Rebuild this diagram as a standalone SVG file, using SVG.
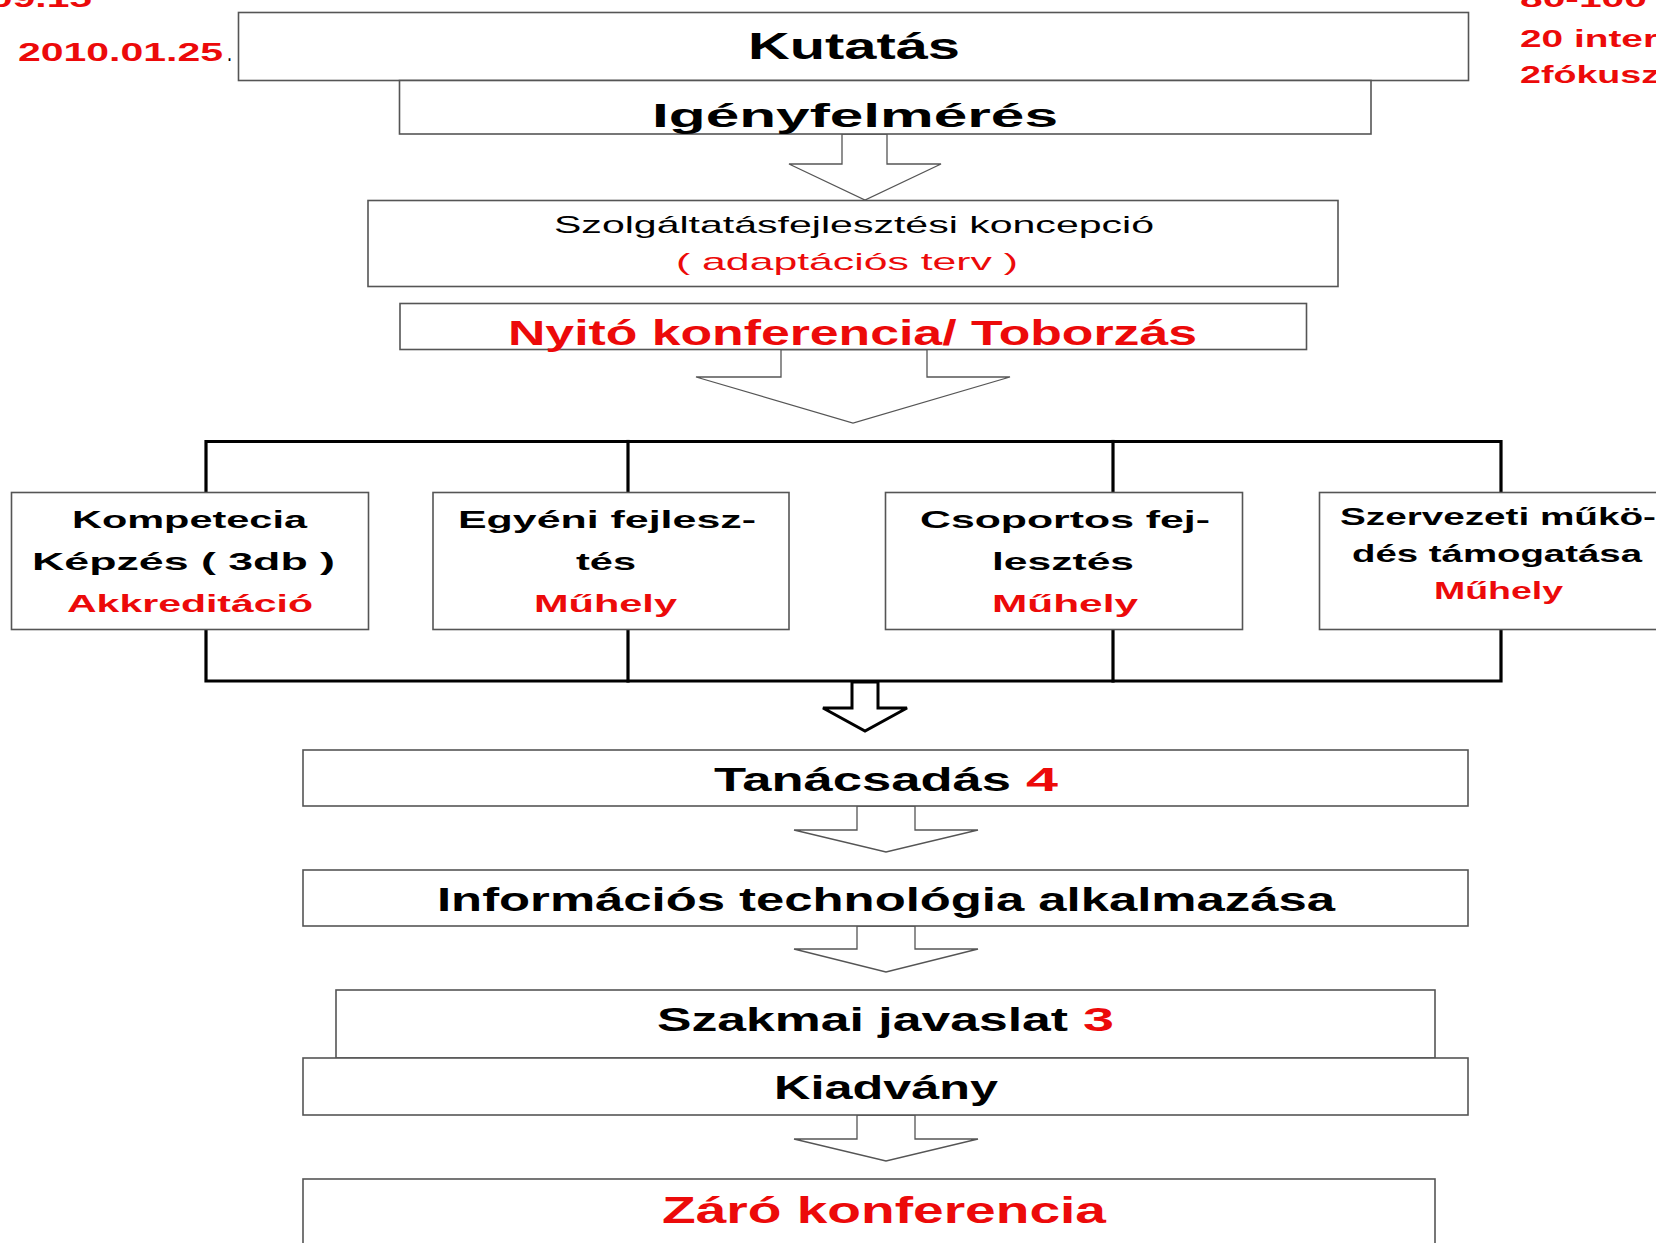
<svg xmlns="http://www.w3.org/2000/svg" width="1656" height="1243" viewBox="0 0 1656 1243">
<style>
.box{fill:#fff;stroke:#555;stroke-width:1.6}
.arr{fill:#fff;stroke:#555;stroke-width:1.3;stroke-linejoin:miter}
.barr{fill:#fff;stroke:#000;stroke-width:3;stroke-linejoin:miter}
.br{fill:none;stroke:#000;stroke-width:3.2;stroke-linecap:square}
text{font-family:"Liberation Sans",Arial,sans-serif;font-weight:bold;fill:#000}
.r{fill:#ec0a0a}
.n{font-weight:normal}
</style>
<rect width="1656" height="1243" fill="#fff"/>
<g id="side-notes">
<text x="-10" y="7" font-size="26" class="r" textLength="102" lengthAdjust="spacingAndGlyphs">09.15</text>
<text x="18" y="61" font-size="26" class="r" textLength="205" lengthAdjust="spacingAndGlyphs">2010.01.25</text>
<text x="227" y="61" font-size="26" class="n" textLength="5" lengthAdjust="spacingAndGlyphs">.</text>
<text x="1520" y="7" font-size="23" class="r" textLength="127" lengthAdjust="spacingAndGlyphs">80-100</text>
<text x="1520" y="47" font-size="23" class="r" textLength="138" lengthAdjust="spacingAndGlyphs">20 inter</text>
<text x="1520" y="83" font-size="23" class="r" textLength="140" lengthAdjust="spacingAndGlyphs">2fókusz</text>
</g>
<g id="connectors">
<polygon class="arr" points="842,134 842,164 789,164 865,200 941,164 887,164 887,134"/>
<polygon class="arr" points="781,349.5 781,377 696,377 853,423 1010,377 927,377 927,349.5"/>
<polyline class="br" points="206,492.5 206,441.5 1501,441.5 1501,492.5"/>
<line class="br" x1="628" y1="441.5" x2="628" y2="492.5"/>
<line class="br" x1="1113" y1="441.5" x2="1113" y2="492.5"/>
<polyline class="br" points="206,629.5 206,681 1501,681 1501,629.5"/>
<line class="br" x1="628" y1="629.5" x2="628" y2="681"/>
<line class="br" x1="1113" y1="629.5" x2="1113" y2="681"/>
<polygon class="barr" points="852,682 852,708 823,708 865,731 907,708 878,708 878,682"/>
<polygon class="arr" points="857,806 857,830 794,830 886,852 978,830 915,830 915,806"/>
<polygon class="arr" points="857,926 857,949 794,949 886,972 978,949 915,949 915,926"/>
<polygon class="arr" points="857,1115 857,1139 794,1139 886,1161 978,1139 915,1139 915,1115"/>
</g>
<g id="kutatas">
<rect class="box" x="238.5" y="12.5" width="1230" height="68"/>
<text x="748" y="59" font-size="37" textLength="212" lengthAdjust="spacingAndGlyphs">Kutatás</text>
</g>
<g id="igenyfelmeres">
<rect class="box" x="399.5" y="80.5" width="971.5" height="53.5"/>
<text x="652" y="127" font-size="34" textLength="406" lengthAdjust="spacingAndGlyphs">Igényfelmérés</text>
</g>
<g id="koncepcio">
<rect class="box" x="368" y="200.5" width="970" height="86"/>
<text x="554" y="233" font-size="24" class="n" textLength="600" lengthAdjust="spacingAndGlyphs">Szolgáltatásfejlesztési koncepció</text>
<text x="676" y="270" font-size="24" class="r n" textLength="342" lengthAdjust="spacingAndGlyphs">( adaptációs terv )</text>
</g>
<g id="nyito">
<rect class="box" x="400" y="303.5" width="906.5" height="46"/>
<text x="508" y="345" font-size="35" class="r" textLength="689" lengthAdjust="spacingAndGlyphs">Nyitó konferencia/ Toborzás</text>
</g>
<g id="kompetencia">
<rect class="box" x="11.5" y="492.5" width="357" height="137"/>
<text x="72" y="528" font-size="24" textLength="235" lengthAdjust="spacingAndGlyphs">Kompetecia</text>
<text x="32" y="570" font-size="24" textLength="303" lengthAdjust="spacingAndGlyphs">Képzés (  3db )</text>
<text x="67" y="612" font-size="24" class="r" textLength="246" lengthAdjust="spacingAndGlyphs">Akkreditáció</text>
</g>
<g id="egyeni">
<rect class="box" x="433" y="492.5" width="356" height="137"/>
<text x="458" y="528" font-size="24" textLength="298" lengthAdjust="spacingAndGlyphs">Egyéni fejlesz-</text>
<text x="576" y="570" font-size="24" textLength="60" lengthAdjust="spacingAndGlyphs">tés</text>
<text x="534" y="612" font-size="24" class="r" textLength="143" lengthAdjust="spacingAndGlyphs">Műhely</text>
</g>
<g id="csoportos">
<rect class="box" x="885.5" y="492.5" width="357" height="137"/>
<text x="920" y="528" font-size="24" textLength="290" lengthAdjust="spacingAndGlyphs">Csoportos fej-</text>
<text x="992" y="570" font-size="24" textLength="142" lengthAdjust="spacingAndGlyphs">lesztés</text>
<text x="992" y="612" font-size="24" class="r" textLength="146" lengthAdjust="spacingAndGlyphs">Műhely</text>
</g>
<g id="szervezeti">
<rect class="box" x="1319.5" y="492.5" width="360" height="137"/>
<text x="1340" y="525" font-size="23" textLength="316" lengthAdjust="spacingAndGlyphs">Szervezeti műkö-</text>
<text x="1352" y="562" font-size="23" textLength="290" lengthAdjust="spacingAndGlyphs">dés támogatása</text>
<text x="1434" y="599" font-size="23" class="r" textLength="129" lengthAdjust="spacingAndGlyphs">Műhely</text>
</g>
<g id="tanacsadas">
<rect class="box" x="303" y="750" width="1165" height="56"/>
<text x="714" y="791" font-size="33" textLength="297" lengthAdjust="spacingAndGlyphs">Tanácsadás</text>
<text x="1026" y="791" font-size="33" class="r" textLength="32" lengthAdjust="spacingAndGlyphs">4</text>
</g>
<g id="informacios">
<rect class="box" x="303" y="870" width="1165" height="56"/>
<text x="437" y="911" font-size="33" textLength="898" lengthAdjust="spacingAndGlyphs">Információs technológia alkalmazása</text>
</g>
<g id="szakmai">
<rect class="box" x="336" y="990" width="1099" height="68"/>
<text x="657" y="1031" font-size="33" textLength="411" lengthAdjust="spacingAndGlyphs">Szakmai javaslat</text>
<text x="1083" y="1031" font-size="33" class="r" textLength="31" lengthAdjust="spacingAndGlyphs">3</text>
</g>
<g id="kiadvany">
<rect class="box" x="303" y="1058" width="1165" height="57"/>
<text x="774" y="1099" font-size="33" textLength="224" lengthAdjust="spacingAndGlyphs">Kiadvány</text>
</g>
<g id="zaro">
<rect class="box" x="303" y="1179" width="1132" height="80"/>
<text x="662" y="1223" font-size="37" class="r" textLength="444" lengthAdjust="spacingAndGlyphs">Záró konferencia</text>
</g>
</svg>
